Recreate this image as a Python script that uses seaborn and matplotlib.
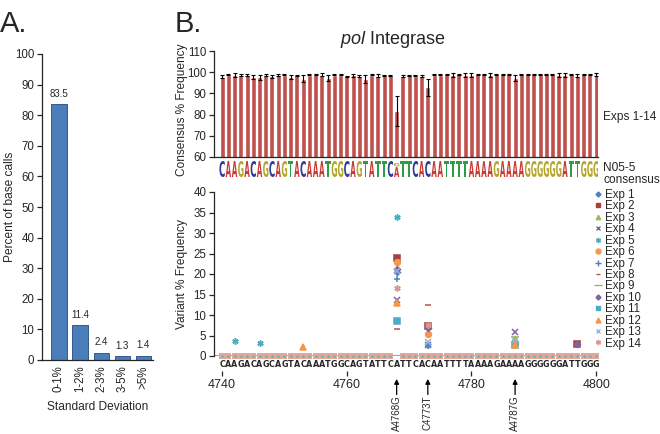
import numpy as np
import matplotlib
matplotlib.use("Agg")  # no display
import matplotlib.pyplot as plt
from matplotlib.textpath import TextPath
from matplotlib.patches import PathPatch
from matplotlib.font_manager import FontProperties
from matplotlib.transforms import Affine2D
from matplotlib.lines import Line2D
import seaborn as sns


# ---------------------------------------------------------------------------
# DATA
# ---------------------------------------------------------------------------
SD_BINS = ["0-1%", "1-2%", "2-3%", "3-5%", ">5%"]
SD_PCT = [83.5, 11.4, 2.4, 1.3, 1.4]

START = 4740
SEQUENCE = "CAAGACAGCAGTACAAATGGCAGTATTCATTCACAATTTTAAAAGAAAAGGGGGGATTGGG"
POSITIONS = list(range(START, START + len(SEQUENCE)))

CONS_MEAN = [97.9, 98.9, 98.6, 98.5, 98.5, 97.8, 97.6, 98.7, 98.0, 98.7,
             98.9, 97.9, 98.6, 97.0, 98.9, 99.0, 98.7, 97.2, 98.9, 98.9,
             98.0, 98.5, 98.2, 96.9, 98.8, 98.4, 98.6, 98.6, 81.8, 98.3,
             98.5, 98.3, 98.1, 93.0, 98.9, 98.9, 99.0, 98.6, 99.0, 98.6,
             98.6, 99.0, 99.0, 98.6, 99.0, 99.0, 99.0, 97.3, 99.0, 99.0,
             99.0, 99.0, 99.0, 99.0, 98.6, 98.6, 99.0, 98.4, 99.0, 99.0,
             98.8]
CONS_SD = [0.6, 0.4, 0.8, 0.5, 0.5, 0.8, 1.2, 0.5, 0.6, 0.4,
           0.4, 0.9, 0.3, 1.8, 0.3, 0.3, 0.7, 1.5, 0.3, 0.3,
           0.4, 0.6, 0.3, 1.8, 0.3, 0.6, 0.3, 0.3, 7.0, 0.5,
           0.4, 0.3, 0.5, 4.0, 0.3, 0.3, 0.3, 0.8, 0.3, 0.8,
           0.8, 0.3, 0.3, 0.8, 0.3, 0.3, 0.3, 1.5, 0.3, 0.3,
           0.3, 0.3, 0.3, 0.3, 0.8, 0.8, 0.3, 0.8, 0.3, 0.3,
           0.6]

# logo: mixed position (major letter height, minor letter, minor height)
LOGO_MIXED_POS = 4768
LOGO_MIXED = ("A", 0.62, "G", 0.22)

# variant frequencies at these positions, one list per experiment
VARIANT_POS = [4742, 4746, 4753, 4768, 4773, 4787, 4797]
nan = np.nan
EXP1 = [nan, nan, nan, 20.5, nan, nan, nan]
EXP2 = [nan, nan, nan, 24.0, 7.2, nan, 3.0]
EXP3 = [nan, nan, nan, nan, nan, 4.2, nan]
EXP4 = [nan, nan, nan, 13.7, 2.8, 5.8, nan]
EXP5 = [3.6, 3.1, nan, 34.0, 2.6, nan, nan]
EXP6 = [nan, nan, nan, 22.9, 5.4, 3.2, nan]
EXP7 = [nan, nan, nan, 18.7, 2.4, nan, nan]
EXP8 = [nan, nan, nan, 6.5, 12.4, nan, nan]
EXP9 = [nan, nan, nan, nan, nan, 4.6, nan]
EXP10 = [nan, nan, nan, 21.2, 6.8, nan, 3.0]
EXP11 = [nan, nan, nan, 8.6, nan, 2.6, nan]
EXP12 = [nan, nan, 2.2, 13.0, nan, 2.8, nan]
EXP13 = [nan, nan, nan, 20.8, 3.4, 4.0, nan]
EXP14 = [nan, nan, nan, 16.6, 7.6, nan, nan]
EXP_NAMES = [f"Exp {i}" for i in range(1, 15)]

MUTATIONS = [(4768, "A4768G"), (4773, "C4773T"), (4787, "A4787G")]
X_TICKS = [4740, 4760, 4780, 4800]

# ---------------------------------------------------------------------------
# STYLE
# ---------------------------------------------------------------------------
sns.set_theme(style="ticks")
plt.rcParams["font.family"] = ["Liberation Sans", "DejaVu Sans"]
plt.rcParams["mathtext.fontset"] = "custom"
plt.rcParams["mathtext.rm"] = "Liberation Sans"
plt.rcParams["mathtext.it"] = "Liberation Sans:italic"
plt.rcParams["axes.linewidth"] = 0.9
plt.rcParams["xtick.major.width"] = 0.9
plt.rcParams["ytick.major.width"] = 0.9

EXP_STYLE = [
    ("D", "#4F81BD", 3.0), ("s", "#A5403D", 4.2), ("^", "#9BBB59", 3.8),
    ("x", "#8064A2", 3.8), ((6, 2, 0), "#4BACC6", 4.5), ("o", "#F79646", 4.2),
    ("+", "#4F81BD", 4.5), ("_", "#C0504D", 4.0), ("_", "#9BBB59", 6.0),
    ("D", "#8064A2", 3.0), ("s", "#4BACC6", 4.2), ("^", "#F79646", 4.2),
    ("x", "#95B3D7", 3.8), ((6, 2, 0), "#D99694", 4.5),
]
LETTER_COLORS = {"A": "#C93A34", "C": "#2F3D98", "G": "#B5A62C", "T": "#2E9E45"}

W, H = 660, 434
fig = plt.figure(figsize=(W / 100, H / 100), dpi=100)


def fbox(x0, y0, x1, y1):
    """pixel box (top-left origin) -> figure fraction rect"""
    return [x0 / W, 1 - y1 / H, (x1 - x0) / W, (y1 - y0) / H]


# ---------------------------------------------------------------------------
# PANEL A
# ---------------------------------------------------------------------------
axA = fig.add_axes(fbox(42, 54, 153, 360))
sns.barplot(x=SD_BINS, y=SD_PCT, color="#4A7EBB", saturation=1, width=0.72,
            edgecolor="#35598A", linewidth=0.7, ax=axA)
axA.set_ylim(0, 100)
axA.set_xlim(-0.8, 4.45)
axA.set_yticks(range(0, 101, 10))
axA.tick_params(axis="y", labelsize=8.3, length=3.5, pad=2)
axA.tick_params(axis="x", labelsize=8.3, length=0, labelrotation=90, pad=4)
for i, v in enumerate(SD_PCT):
    axA.text(i, v + 3.4, f"{v:.1f}", ha="center", va="center", fontsize=7)
axA.set_ylabel("Percent of base calls", fontsize=8.6)
axA.yaxis.set_label_coords(-0.235, 0.5)
axA.set_xlabel("Standard Deviation", fontsize=8.6)
axA.xaxis.set_label_coords(0.5, -0.135)
sns.despine(ax=axA)

fig.text(0.0, 1 - 10 / H, "A.", fontsize=21, va="top", ha="left")
fig.text(175 / W, 1 - 10 / H, "B.", fontsize=21, va="top", ha="left")
fig.text(393 / W, 1 - 39 / H, r"$\it{pol}$ Integrase", fontsize=13,
         ha="center", va="center")

XLIM = (START - 1.3, START + 61.3 - 1)

# ---------------------------------------------------------------------------
# PANEL B top: consensus frequency bars
# ---------------------------------------------------------------------------
axT = fig.add_axes(fbox(214, 51, 598, 157))
sns.barplot(x=POSITIONS, y=CONS_MEAN, native_scale=True, color="#C0504D",
            saturation=1, width=0.8, errorbar=None, ax=axT)
axT.errorbar(POSITIONS, CONS_MEAN, yerr=CONS_SD, fmt="none", ecolor="black",
             elinewidth=0.8, capsize=1.4, capthick=0.8)
axT.set_xlim(*XLIM)
axT.set_ylim(60, 110)
axT.set_yticks(range(60, 111, 10))
axT.set_xticks([])
axT.set_xlabel("")
axT.tick_params(axis="y", labelsize=8.3, length=3.5, pad=2)
axT.set_ylabel("Consensus % Frequency", fontsize=8.6)
axT.yaxis.set_label_coords(-0.068, 0.45)
sns.despine(ax=axT)
fig.text(603 / W, 1 - 117 / H, "Exps 1-14", fontsize=8.6, va="center")
fig.text(603 / W, 1 - 174 / H, "N05-5\nconsensus", fontsize=8.6, va="center",
         linespacing=0.95)

# ---------------------------------------------------------------------------
# PANEL B middle: sequence logo
# ---------------------------------------------------------------------------
axL = fig.add_axes(fbox(214, 161, 598, 177))
axL.set_xlim(*XLIM)
axL.set_ylim(0, 1)
axL.axis("off")
logo_font = FontProperties(family="DejaVu Sans", weight="bold")


def draw_letter(ax, ch, x, y0, h, w=0.86):
    tp = TextPath((0, 0), ch, size=1, prop=logo_font)
    bb = tp.get_extents()
    t = (Affine2D().translate(-bb.x0, -bb.y0)
         .scale(w / bb.width, h / bb.height).translate(x - w / 2, y0))
    ax.add_patch(PathPatch(t.transform_path(tp), facecolor=LETTER_COLORS[ch],
                           lw=0))


for pos, ch in zip(POSITIONS, SEQUENCE):
    if pos == LOGO_MIXED_POS:
        major, mh, minor, nh = LOGO_MIXED
        draw_letter(axL, major, pos, 0, mh)
        draw_letter(axL, minor, pos, mh + 0.04, nh)
    else:
        draw_letter(axL, ch, pos, 0, 1)

# ---------------------------------------------------------------------------
# PANEL B bottom: variant frequency scatter
# ---------------------------------------------------------------------------
axS = fig.add_axes(fbox(214, 192, 598, 356))
axS.set_xlim(*XLIM)
axS.set_ylim(0, 40)
axS.axhline(0, color="#A6A6A6", lw=1.6, zorder=1)
base_pos = [p for p in POSITIONS if p != LOGO_MIXED_POS]
axS.plot(base_pos, np.zeros(len(base_pos)), "s", color="#E3A797",
         markersize=5.0, markeredgewidth=0, clip_on=False, zorder=2)
axS.plot(base_pos, np.zeros(len(base_pos)), "o", color="#4BACC6",
         markersize=1.5, markeredgewidth=0, clip_on=False, zorder=3)

exp_data = [EXP1, EXP2, EXP3, EXP4, EXP5, EXP6, EXP7, EXP8, EXP9, EXP10,
            EXP11, EXP12, EXP13, EXP14]
handles = []
for name, vals, (mk, col, ms) in zip(EXP_NAMES, exp_data, EXP_STYLE):
    axS.plot(VARIANT_POS, vals, linestyle="none", marker=mk, color=col,
             markersize=ms, markeredgewidth=1.1, clip_on=False, zorder=4)
    handles.append(Line2D([], [], linestyle="none", marker=mk, color=col,
                          markersize=ms * 0.85, markeredgewidth=1.0))

for pos, ch in zip(POSITIONS, SEQUENCE):
    axS.text(pos, -2.1, ch, ha="center", va="center", fontsize=5.8,
             fontweight="bold", family="DejaVu Sans")

axS.set_yticks(range(0, 41, 5))
axS.set_xticks(X_TICKS)
axS.tick_params(axis="y", labelsize=8.3, length=3.5, pad=2)
axS.tick_params(axis="x", labelsize=9, length=3.6, direction="out", pad=2.5)
sns.despine(ax=axS)
axS.spines["bottom"].set_position(("outward", 10.8))
axS.spines["bottom"].set_visible(False)
axS.set_ylabel("Variant % Frequency", fontsize=8.6)
axS.yaxis.set_label_coords(-0.068, 0.5)

xt = axS.get_xaxis_transform()
for pos, label in MUTATIONS:
    axS.annotate("", xy=(pos, -0.14), xycoords=xt,
                 xytext=(pos, -0.235), textcoords=xt,
                 arrowprops=dict(arrowstyle="-|>", color="black", lw=0.9,
                                 mutation_scale=7, shrinkA=0, shrinkB=0))
    axS.text(pos, -0.24, label, transform=xt, rotation=90, ha="center",
             va="top", fontsize=7.0)

fig.legend(handles, EXP_NAMES, loc="upper left",
           bbox_to_anchor=(594.5 / W, 1 - 189 / H), frameon=False,
           fontsize=8.3, handlelength=0.6, handletextpad=0.35,
           labelspacing=-0.05, borderaxespad=0, borderpad=0)

fig.savefig("out.png", dpi=100)
